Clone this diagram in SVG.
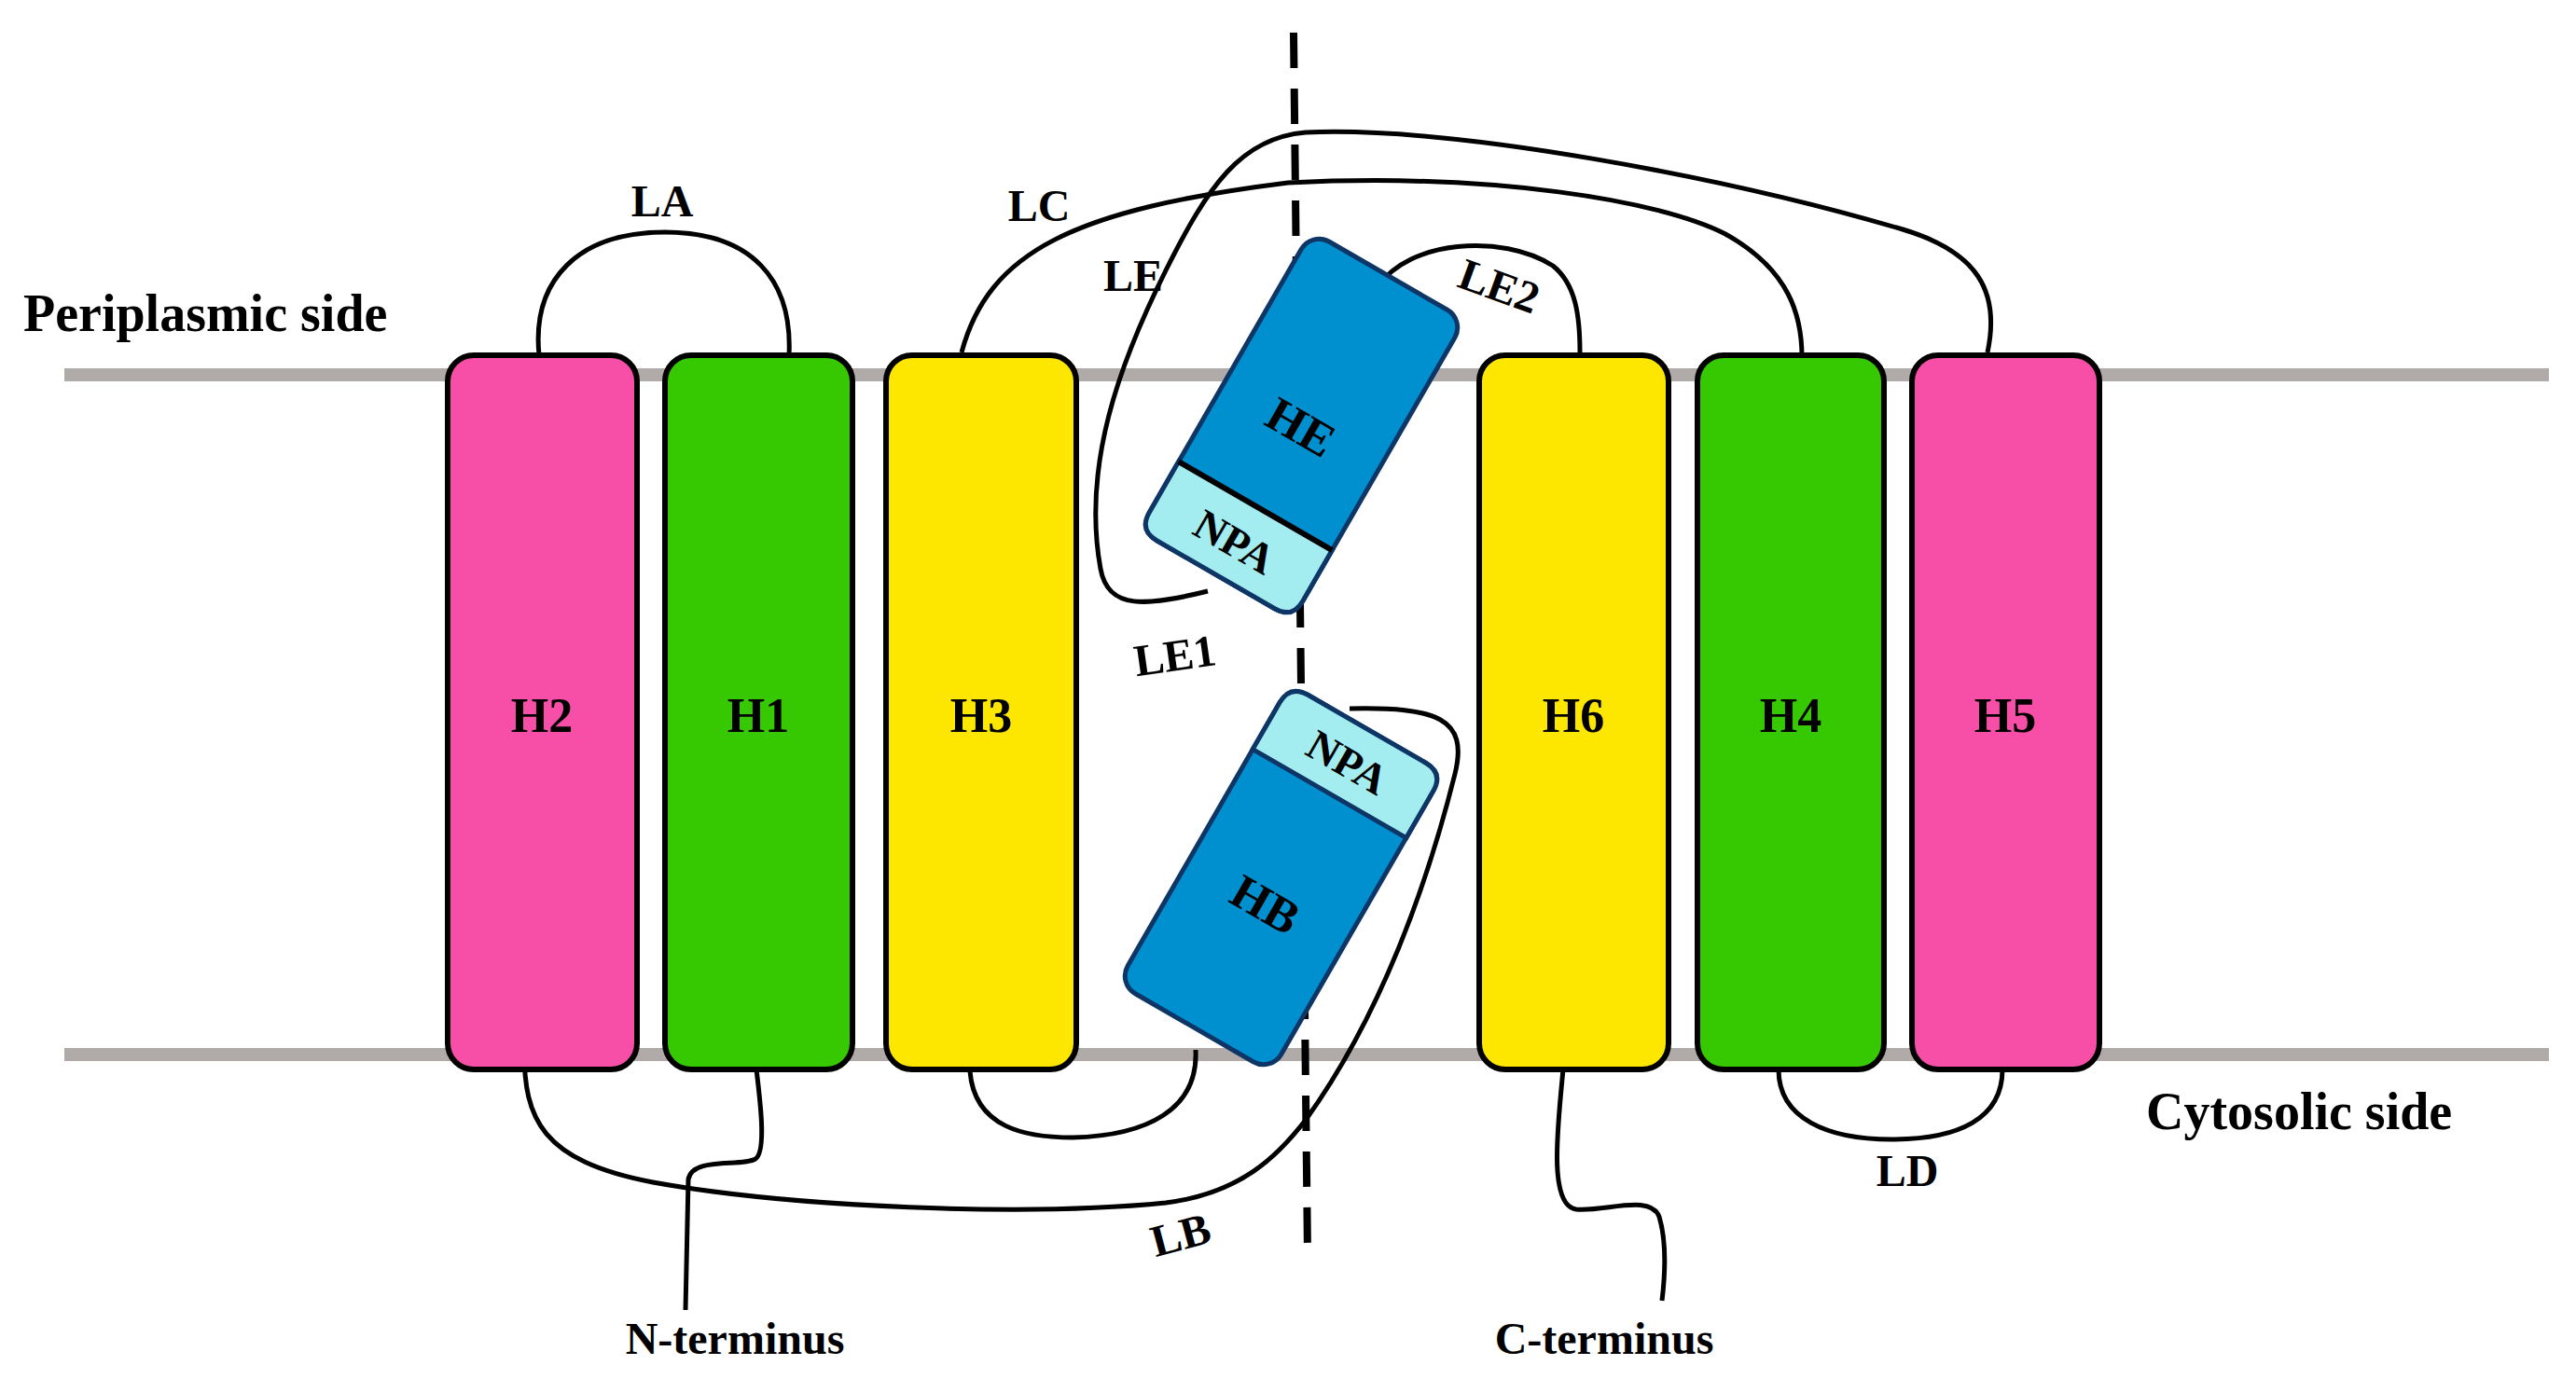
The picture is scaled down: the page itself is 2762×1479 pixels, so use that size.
<svg xmlns="http://www.w3.org/2000/svg" width="2762" height="1479" viewBox="0 0 2762 1479">
<style>
text{font-family:"Liberation Serif","Times New Roman",serif;font-weight:bold;fill:#000}
.mem{stroke:#b0aaa8;stroke-width:14}
.h{stroke:#000;stroke-width:6}
.loop{fill:none;stroke:#000;stroke-width:5}
.lbl{font-size:48px;text-anchor:middle}
.hl{font-size:52px;text-anchor:middle}
.blk{stroke:#0d3566;stroke-width:5}
</style>
<rect width="2762" height="1479" fill="#fff"/>
<line class="mem" x1="69" y1="402" x2="2733" y2="402"/>
<line class="mem" x1="69" y1="1131" x2="2733" y2="1131"/>
<line x1="1387" y1="35" x2="1402" y2="1345" stroke="#000" stroke-width="8" stroke-dasharray="38,22"/>
<g id="connectors">
<path class="loop" d="M578,381 C570,300 620,249 713,249 C806,249 850,300 846,381"/>
<path class="loop" d="M1031,378 C1060,270 1150,225 1381,196 C1600,185 1780,215 1850,251 C1920,290 1932,340 1932,383"/>
<path class="loop" d="M2131,378 C2145,312 2120,270 2040,246 C1850,190 1560,135 1400,142 C1330,148 1295,200 1250,290 C1200,390 1160,500 1180,610 C1188,655 1230,650 1295,634"/>
<path class="loop" d="M1478,307 C1510,258 1610,250 1665,285 C1690,305 1694,340 1694,378"/>
<path class="loop" d="M1040,1149 C1045,1210 1100,1220 1150,1220 C1230,1218 1285,1190 1282,1126"/>
<path class="loop" d="M562,1126 C562,1200 580,1245 700,1268 C850,1295 1100,1305 1250,1290 C1330,1280 1370,1240 1400,1201 C1480,1090 1530,950 1560,830 C1575,770 1540,758 1447,760"/>
<path class="loop" d="M811,1147 C815,1180 822,1235 810,1243 C795,1252 742,1240 738,1265 L735,1405"/>
<path class="loop" d="M1676,1147 C1670,1210 1660,1293 1690,1297 C1720,1300 1770,1280 1779,1305 C1788,1335 1785,1370 1782,1395"/>
<path class="loop" d="M1907,1147 C1907,1200 1960,1222 2028,1222 C2100,1222 2147,1200 2147,1147"/>
</g>
<g id="H2"><rect class="h" x="480" y="381" width="203" height="766" rx="28" fill="#f74fa7"/><text class="hl" x="581" y="785">H2</text></g>
<g id="H1"><rect class="h" x="713" y="381" width="201" height="766" rx="28" fill="#36c800"/><text class="hl" x="813" y="785">H1</text></g>
<g id="H3"><rect class="h" x="950" y="381" width="204" height="766" rx="28" fill="#fde600"/><text class="hl" x="1052" y="785">H3</text></g>
<g id="H6"><rect class="h" x="1586" y="381" width="203" height="766" rx="28" fill="#fde600"/><text class="hl" x="1687" y="785">H6</text></g>
<g id="H4"><rect class="h" x="1820" y="381" width="200" height="766" rx="28" fill="#36c800"/><text class="hl" x="1920" y="785">H4</text></g>
<g id="H5"><rect class="h" x="2050" y="381" width="201" height="766" rx="28" fill="#f74fa7"/><text class="hl" x="2150" y="785">H5</text></g>
<g id="HE" transform="translate(1396,456) rotate(30)">
<rect class="blk" x="-95" y="-185" width="190" height="370" rx="22" fill="#0090d0"/>
<path class="blk" d="M-95,100 L95,100 L95,163 Q95,185 73,185 L-73,185 Q-95,185 -95,163 Z" fill="#a3ecf0"/>
<line x1="-95" y1="100" x2="95" y2="100" stroke="#000" stroke-width="6"/>
<text class="hl" x="0" y="20">HE</text>
<text class="hl" x="0" y="160" style="font-size:46px">NPA</text>
</g>
<g id="HB" transform="translate(1373,942) rotate(30)">
<rect class="blk" x="-95" y="-185" width="190" height="370" rx="22" fill="#0090d0"/>
<path class="blk" d="M-95,-163 Q-95,-185 -73,-185 L73,-185 Q95,-185 95,-163 L95,-105 L-95,-105 Z" fill="#a3ecf0"/>
<text class="hl" x="0" y="-128" style="font-size:46px">NPA</text>
<text class="hl" x="0" y="50">HB</text>
</g>
<g id="labels">
<text x="25" y="355" style="font-size:56px">Periplasmic side</text>
<text x="2301" y="1211" style="font-size:56px">Cytosolic side</text>
<text class="lbl" x="710" y="232">LA</text>
<text class="lbl" x="1114" y="237">LC</text>
<text class="lbl" x="1215" y="312">LE</text>
<text class="lbl" transform="translate(1262,719) rotate(-8)">LE1</text>
<text class="lbl" transform="translate(1602,322) rotate(20)">LE2</text>
<text class="lbl" transform="translate(1270,1340) rotate(-15)">LB</text>
<text class="lbl" x="2045" y="1272">LD</text>
<text class="lbl" x="788" y="1452">N-terminus</text>
<text class="lbl" x="1720" y="1452">C-terminus</text>
</g>
</svg>
